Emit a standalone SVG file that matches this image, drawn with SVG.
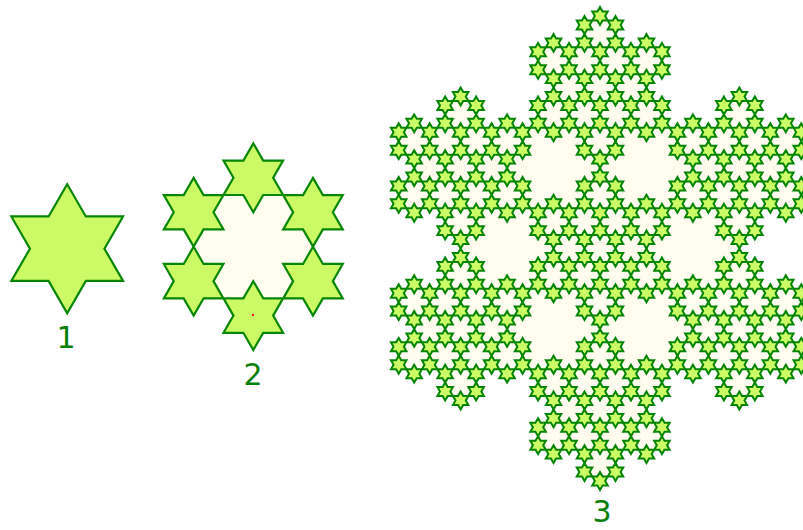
<svg xmlns="http://www.w3.org/2000/svg" width="803" height="530" viewBox="0 0 803 530">
<style>
.star{fill:#ccff66;stroke:#048404;stroke-width:2;stroke-linejoin:miter}
.big{fill:#ccfa66;stroke:#068606;stroke-width:2.2}
.cream{fill:#fffcf0;stroke:none}
.lbl{font-family:"DejaVu Sans",sans-serif;font-size:30px;fill:#087f08;text-anchor:middle}
</style>
<defs>
<path id="st" class="star" d="M0,-8.94 L2.581,-4.47 L7.742,-4.47 L5.162,0 L7.742,4.47 L2.581,4.47 L0,8.94 L-2.581,4.47 L-7.742,4.47 L-5.162,0 L-7.742,-4.47 L-2.581,-4.47Z"/>
<polygon id="rh" class="cream" points="15.6,0 7.8,13.5 -7.8,13.5 -15.6,0 -7.8,-13.5 7.8,-13.5"/>
<polygon id="gh" class="cream" points="0,-53.64 46.45,-26.82 46.45,26.82 0,53.64 -46.45,26.82 -46.45,-26.82"/>
<g id="ringS">
<use href="#st" x="0" y="-17.88"/>
<use href="#st" x="15.485" y="-8.94"/>
<use href="#st" x="15.485" y="8.94"/>
<use href="#st" x="0" y="17.88"/>
<use href="#st" x="-15.485" y="8.94"/>
<use href="#st" x="-15.485" y="-8.94"/>
</g>
<g id="grpS">
<use href="#ringS" x="0" y="0"/>
<use href="#ringS" x="0" y="-53.64"/>
<use href="#ringS" x="46.45" y="-26.82"/>
<use href="#ringS" x="46.45" y="26.82"/>
<use href="#ringS" x="0" y="53.64"/>
<use href="#ringS" x="-46.45" y="26.82"/>
<use href="#ringS" x="-46.45" y="-26.82"/>
</g>
<g id="grpF">
<use href="#gh"/>
<use href="#rh" x="0" y="0"/>
<use href="#rh" x="0" y="-53.64"/>
<use href="#rh" x="46.45" y="-26.82"/>
<use href="#rh" x="46.45" y="26.82"/>
<use href="#rh" x="0" y="53.64"/>
<use href="#rh" x="-46.45" y="26.82"/>
<use href="#rh" x="-46.45" y="-26.82"/>
</g>
<path id="st2" class="big" d="M0,-34.4 L9.93,-17.2 L29.79,-17.2 L19.86,0 L29.79,17.2 L9.93,17.2 L0,34.4 L-9.93,17.2 L-29.79,17.2 L-19.86,0 L-29.79,-17.2 L-9.93,-17.2Z"/>
</defs>
<rect width="803" height="530" fill="#ffffff"/>

<g id="fig1">
<path class="big" transform="translate(67.2,248.7)" d="M0,-64.5 L18.62,-32.25 L55.86,-32.25 L37.24,0 L55.86,32.25 L18.62,32.25 L0,64.5 L-18.62,32.25 L-55.86,32.25 L-37.24,0 L-55.86,-32.25 L-18.62,-32.25Z"/>
<text class="lbl" x="66" y="348">1</text>
</g>

<g id="fig2">
<polygon class="cream" points="312.97,246.7 283.14,298.38 223.46,298.38 193.63,246.7 223.46,195.02 283.14,195.02"/>
<use href="#st2" x="253.3" y="177.8"/>
<use href="#st2" x="312.97" y="212.25"/>
<use href="#st2" x="312.97" y="281.15"/>
<use href="#st2" x="253.3" y="315.6"/>
<use href="#st2" x="193.63" y="281.15"/>
<use href="#st2" x="193.63" y="212.25"/>
<rect x="252" y="314" width="2" height="2" fill="#e02020"/>
<text class="lbl" x="253" y="385">2</text>
</g>

<g id="fig3">
<polygon class="cream" points="600,87.58 739.36,168.04 739.36,328.96 600,409.42 460.64,328.96 460.64,168.04"/>
<g id="fig3-fill">
<use href="#grpF" x="600" y="248.5"/>
<use href="#grpF" x="600" y="87.58"/>
<use href="#grpF" x="739.36" y="168.04"/>
<use href="#grpF" x="739.36" y="328.96"/>
<use href="#grpF" x="600" y="409.42"/>
<use href="#grpF" x="460.64" y="328.96"/>
<use href="#grpF" x="460.64" y="168.04"/>
</g>
<g id="fig3-stars">
<use href="#grpS" x="600" y="248.5"/>
<use href="#grpS" x="600" y="87.58"/>
<use href="#grpS" x="739.36" y="168.04"/>
<use href="#grpS" x="739.36" y="328.96"/>
<use href="#grpS" x="600" y="409.42"/>
<use href="#grpS" x="460.64" y="328.96"/>
<use href="#grpS" x="460.64" y="168.04"/>
</g>
<text class="lbl" x="602" y="522">3</text>
</g>
</svg>
